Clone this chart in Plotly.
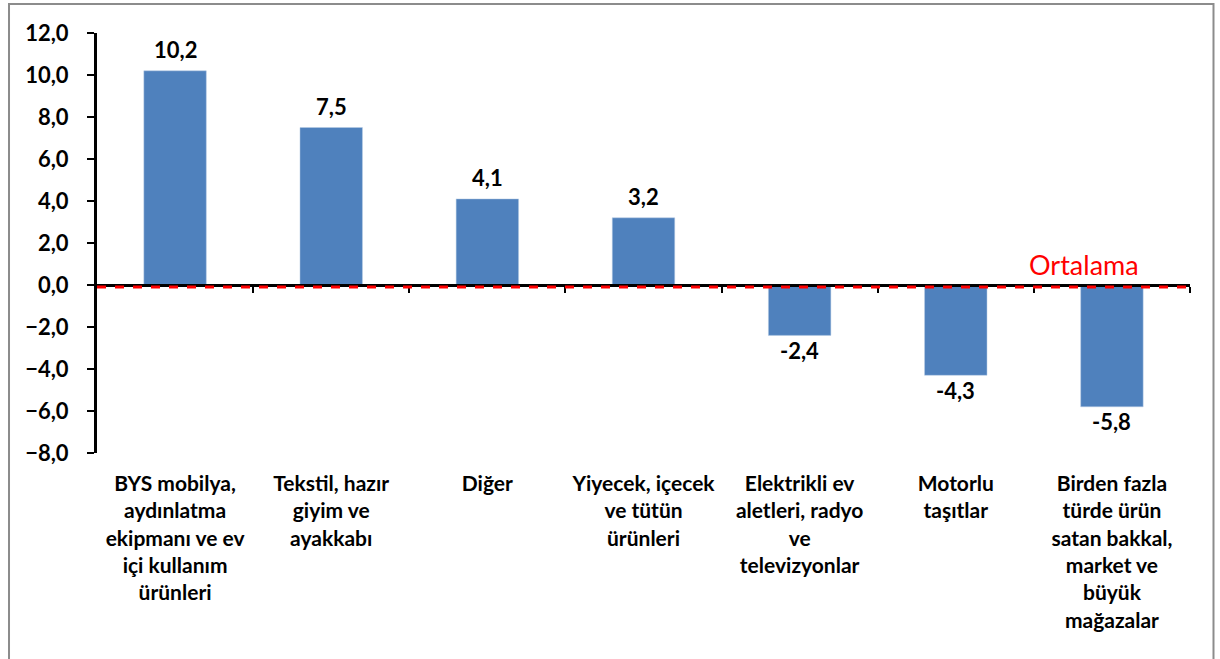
import plotly.graph_objects as go

categories = [
    "BYS mobilya,<br>aydınlatma<br>ekipmanı ve ev<br>içi kullanım<br>ürünleri",
    "Tekstil, hazır<br>giyim ve<br>ayakkabı",
    "Diğer",
    "Yiyecek, içecek<br>ve tütün<br>ürünleri",
    "Elektrikli ev<br>aletleri, radyo<br>ve<br>televizyonlar",
    "Motorlu<br>taşıtlar",
    "Birden fazla<br>türde ürün<br>satan bakkal,<br>market ve<br>büyük<br>mağazalar",
]
values = [10.2, 7.5, 4.1, 3.2, -2.4, -4.3, -5.8]
value_labels = ["10,2", "7,5", "4,1", "3,2", "-2,4", "-4,3", "-5,8"]
ortalama = -0.1
ortalama_label = "Ortalama"
y_range = [-8, 12]
y_ticks = [-8, -6, -4, -2, 0, 2, 4, 6, 8, 10, 12]

FONT = "Lato"
n = len(categories)
x_idx = list(range(n))

fig = go.Figure()
fig.add_trace(go.Bar(
    x=x_idx, y=values, width=0.4,
    marker=dict(color="#4F81BD", line=dict(color="#B9CDE5", width=0.5)),
    showlegend=False, hoverinfo="skip",
))
# zero axis with tick marks at category boundaries
fig.add_trace(go.Scatter(x=[-0.5, n - 0.5], y=[0, 0], xaxis="x2", mode="lines",
                         line=dict(color="rgba(0,0,0,0)"), showlegend=False, hoverinfo="skip"))

for xi, v, lab in zip(x_idx, values, value_labels):
    fig.add_annotation(x=xi, y=v, xref="x", yref="y", text=lab, showarrow=False,
                       yanchor="middle", yshift=21 if v >= 0 else -15,
                       font=dict(family=FONT, size=22, color="black", weight="bold"))

zero_pos = (0 - y_range[0]) / (y_range[1] - y_range[0])

fig.add_shape(type="line", xref="x", yref="y", x0=-0.5, x1=n - 0.5, y0=ortalama, y1=ortalama,
              line=dict(color="red", width=3, dash="dash"), layer="above")
fig.add_annotation(x=5.82, y=ortalama, xref="x", yref="y", text=ortalama_label, showarrow=False,
                   yanchor="bottom", yshift=4, font=dict(family=FONT, size=27, color="red"))
# outer chart frame
fig.add_shape(type="rect", xref="paper", yref="paper", x0=-0.0805, x1=1.0215, y0=-0.6, y1=1.0690,
              line=dict(color="#8C8C8C", width=2), layer="below")

fig.update_layout(
    width=1220, height=659,
    margin=dict(l=97, r=30, t=33, b=206),
    paper_bgcolor="white", plot_bgcolor="white",
    separators=",.",
    bargap=0.6,
    xaxis=dict(range=[-0.5, n - 0.5], tickvals=x_idx, ticktext=categories,
               showline=False, showgrid=False, zeroline=False, ticks="",
               ticklabelstandoff=16,
               tickfont=dict(family=FONT, size=21, color="black", weight="bold")),
    xaxis2=dict(range=[-0.5, n - 0.5], overlaying="x", anchor="free", position=zero_pos,
                side="bottom", showline=True, linecolor="black", linewidth=2.5,
                showticklabels=False, ticks="outside", ticklen=6, tickwidth=2, tickcolor="black",
                tickvals=[i + 0.5 for i in range(n)], showgrid=False, zeroline=False),
    yaxis=dict(range=y_range, tickvals=y_ticks, tickformat=".1f",
               showline=True, linecolor="black", linewidth=3, ticks="outside", ticklen=7,
               tickwidth=2, tickcolor="black", showgrid=False, zeroline=False,
               ticklabelstandoff=14,
               tickfont=dict(family=FONT, size=22, color="black", weight="bold")),
)

fig.write_html("out.html", config={"displayModeBar": False},
               post_script="document.body.style.margin='0';document.body.style.overflow='hidden';")
